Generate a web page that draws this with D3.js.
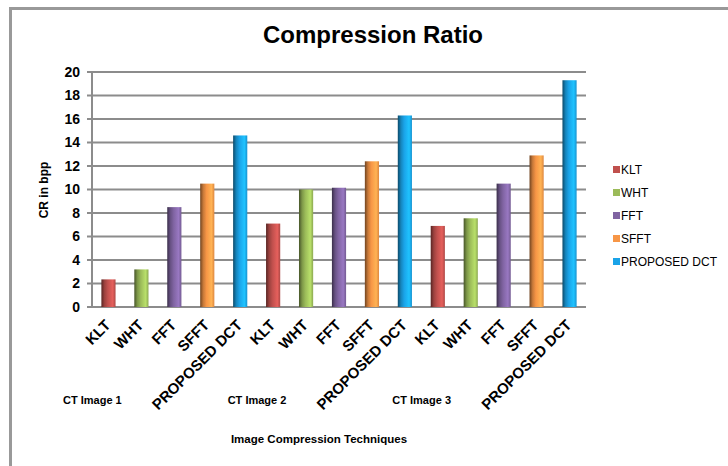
<!DOCTYPE html>
<html>
  <head>
    <meta charset="utf-8">
    <style>
      body { margin: 0; background: #fff; }
      svg { display: block; font-family: "Liberation Sans", Arial, sans-serif; }
      .grid line { stroke: #8c8c8c; stroke-width: 2px; }
      .tick-label { font-size: 14px; font-weight: bold; fill: #000; }
      .cat-label { font-size: 15px; font-weight: bold; fill: #000; }
      .group-label { font-size: 11px; font-weight: bold; fill: #000; }
      .legend text { font-size: 12px; fill: #000; }
    </style>
  </head>
  <body>
    <svg></svg>
    <script src="https://cdnjs.cloudflare.com/ajax/libs/d3/7.8.5/d3.min.js"></script>
    <script>
      var methods = ['KLT', 'WHT', 'FFT', 'SFFT', 'PROPOSED DCT'];
      var images = ['CT Image 1', 'CT Image 2', 'CT Image 3'];
      var colors = ['#c0504d', '#9bbb59', '#8064a2', '#f79646', '#1aa3e8'];
      var ratios = [
        [2.35, 3.2, 8.5, 10.5, 14.6],
        [7.1, 10.0, 10.15, 12.4, 16.3],
        [6.9, 7.55, 10.5, 12.9, 19.3]
      ];
      var yTicks = [0, 2, 4, 6, 8, 10, 12, 14, 16, 18, 20];

      var W = 728, H = 466;
      var plot = {left: 92, right: 586, top: 72, bottom: 307};

      var svg = d3.select('svg').attr('width', W).attr('height', H);

      // chart frame (only left/top edges are visible in the crop)
      svg.append('rect')
        .attr('x', 10.5).attr('y', 8.5)
        .attr('width', W + 20).attr('height', H + 20)
        .style('fill', '#fff').style('stroke', '#999').style('stroke-width', 3);

      var cats = [];
      ratios.forEach(function(row, g){
        row.forEach(function(v, m){
          cats.push({id: g + '-' + m, group: g, method: m, value: v});
        });
      });

      var x = d3.scaleBand()
        .domain(cats.map(function(d){ return d.id; }))
        .range([plot.left, plot.right])
        .paddingInner(0.57).paddingOuter(0.285);

      var y = d3.scaleLinear().domain([0, 20]).range([plot.bottom, plot.top]);

      // gradients for the cylinder look
      var defs = svg.append('defs');
      colors.forEach(function(c, i){
        var base = d3.color(c);
        var grad = defs.append('linearGradient').attr('id', 'g' + i)
          .attr('x1', 0).attr('x2', 1).attr('y1', 0).attr('y2', 0);
        grad.append('stop').attr('offset', '0%').attr('stop-color', base.darker(2.2));
        grad.append('stop').attr('offset', '22%').attr('stop-color', base.darker(0.6));
        grad.append('stop').attr('offset', '45%').attr('stop-color', base);
        grad.append('stop').attr('offset', '80%').attr('stop-color', base.brighter(0.5));
        grad.append('stop').attr('offset', '100%').attr('stop-color', base.darker(0.3));
      });

      // gridlines + ticks
      var grid = svg.append('g').attr('class', 'grid');
      grid.selectAll('line').data(yTicks).enter().append('line')
        .attr('x1', plot.left - 5).attr('x2', plot.right)
        .attr('y1', function(d){ return y(d); })
        .attr('y2', function(d){ return y(d); });

      svg.append('line')
        .attr('x1', plot.left).attr('x2', plot.left)
        .attr('y1', plot.top).attr('y2', plot.bottom)
        .style('stroke', '#8c8c8c').style('stroke-width', 2);

      svg.selectAll('.tick-label').data(yTicks).enter().append('text')
        .attr('class', 'tick-label')
        .attr('x', plot.left - 12)
        .attr('y', function(d){ return y(d); })
        .attr('dy', '0.35em')
        .attr('text-anchor', 'end')
        .text(function(d){ return d; });

      // bars
      svg.selectAll('.bar').data(cats).enter().append('rect')
        .attr('class', 'bar')
        .attr('x', function(d){ return x(d.id); })
        .attr('width', x.bandwidth())
        .attr('y', function(d){ return y(d.value); })
        .attr('height', function(d){ return y(0) - y(d.value); })
        .style('fill', function(d){ return 'url(#g' + d.method + ')'; });

      // category labels
      svg.selectAll('.cat-label').data(cats).enter().append('text')
        .attr('class', 'cat-label')
        .attr('text-anchor', 'end')
        .attr('transform', function(d){
          return 'translate(' + (x(d.id) + x.bandwidth() / 2 + 3) + ',326) rotate(-45)';
        })
        .text(function(d){ return methods[d.method]; });

      // group labels
      svg.selectAll('.group-label').data(images).enter().append('text')
        .attr('class', 'group-label')
        .attr('text-anchor', 'middle')
        .attr('x', function(d, i){ return x(i + '-2') + x.bandwidth() / 2 - 82; })
        .attr('y', 404)
        .text(function(d){ return d; });

      // titles
      svg.append('text')
        .attr('x', 373).attr('y', 43)
        .attr('text-anchor', 'middle')
        .style('font-size', '24px').style('font-weight', 'bold')
        .text('Compression Ratio');

      svg.append('text')
        .attr('x', 319).attr('y', 443)
        .attr('text-anchor', 'middle')
        .style('font-size', '11.5px').style('font-weight', 'bold')
        .text('Image Compression Techniques');

      svg.append('text')
        .attr('transform', 'translate(48,190) rotate(-90)')
        .attr('text-anchor', 'middle')
        .style('font-size', '12px').style('font-weight', 'bold')
        .text('CR in bpp');

      // legend
      var legend = svg.append('g').attr('class', 'legend')
        .selectAll('g').data(methods).enter().append('g')
        .attr('transform', function(d, i){ return 'translate(613,' + (170 + i * 23) + ')'; });
      legend.append('rect')
        .attr('x', 0).attr('y', -4).attr('width', 7).attr('height', 7)
        .style('fill', function(d, i){ return colors[i]; });
      legend.append('text')
        .attr('x', 8).attr('dy', '0.35em')
        .text(function(d){ return d; });
    </script>
  </body>
</html>
